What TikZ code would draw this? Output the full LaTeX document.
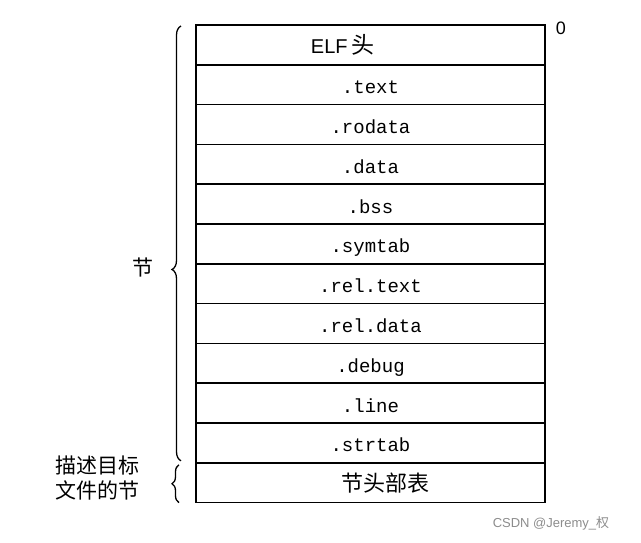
\documentclass[tikz,border=0pt]{standalone}
\usepackage{fontspec}
\setmainfont{Liberation Sans}
\setmonofont{Liberation Mono}
\newfontfamily\cjk{Noto Sans CJK SC}
\usetikzlibrary{positioning,decorations.pathreplacing}

\begin{document}
\begin{tikzpicture}[x=1pt,y=-1pt,
    sec/.style={draw, line width=1.5pt, minimum width=349pt, minimum height=39.8pt,
      inner sep=0pt, outer sep=0pt, text height=18pt, text depth=0pt,
      font=\ttfamily\fontsize{19}{19}\selectfont},
    lbl/.style={font=\cjk\fontsize{21}{25}\selectfont, align=left},
    curly/.style={decorate, decoration={brace, amplitude=9pt}, line width=1.3pt}]
    \useasboundingbox (0,0) rectangle (641,542);

    % The ELF header on top of the file
    \node[sec] (elf) at (370.5,44.9) {};
    \node[font=\fontsize{20}{20}\selectfont] (elftxt) at ([xshift=-28pt]elf.center) {ELF\,{\cjk\fontsize{23}{23}\selectfont 头}};
    \node[font=\fontsize{18}{18}\selectfont] (zero) at (561,28) {0};

    % Sections, one row each
    \foreach \name/\txt [remember=\name as \prev (initially elf)] in
      {text/.text, rodata/.rodata, data/.data, bss/.bss, symtab/.symtab,
       reltext/.rel.text, reldata/.rel.data, debug/.debug, line/.line, strtab/.strtab}
      \node[sec, below=0pt of \prev] (\name) {\txt};

    % Section header table
    \node[sec, below=0pt of strtab] (shdr) {};
    \node[font=\cjk\fontsize{22}{22}\selectfont] (shdrtxt) at ([xshift=15pt]shdr.center) {节头部表};

    % Braces and their labels
    \coordinate (b1top) at ([xshift=-15pt,yshift=-1pt]elf.north west);
    \coordinate (b1bot) at ([xshift=-15pt,yshift=2pt]strtab.south west);
    \coordinate (b2top) at ([xshift=-17pt,yshift=-2pt]shdr.north west);
    \coordinate (b2bot) at ([xshift=-17pt]shdr.south west);
    \draw[curly, decoration={aspect=0.44}] (b1bot) -- (b1top);
    \draw[curly, decoration={amplitude=7pt}] (b2bot) -- (b2top);
    \node[lbl] (sect) at (143,267) {节};
    \node[lbl] (desc) at (98,478) {描述目标\\文件的节};

    % Watermark
    \node[text=black!45, font=\fontsize{13}{13}\selectfont] (mark) at (551,523) {CSDN @Jeremy\_{\cjk 权}};
\end{tikzpicture}
\end{document}
